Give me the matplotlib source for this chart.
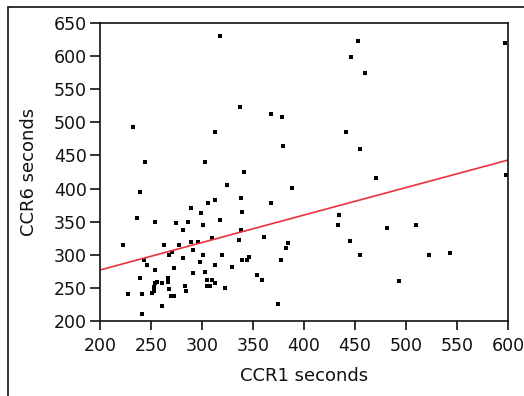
import matplotlib
matplotlib.use('Agg')
import matplotlib.pyplot as plt
from matplotlib.patches import Rectangle

ccr1 = [318, 337.6, 367.7, 378, 232.4, 312.7, 379.5, 244, 303,
        453, 597, 446, 459.7, 441.5, 454.8,
        471, 598, 434.5, 433, 481.4, 509.6, 444.7, 454.5, 523, 543, 493,
        341.2, 324.5, 388, 239, 338, 312.7, 306, 367.7, 289.4, 339.6,
        299.3, 236, 254.4, 286, 317.6, 274.4, 301, 281.2, 338, 309.4,
        361, 336.2, 289.4, 296, 222.3, 263, 277.6, 291, 271, 267.8,
        301.2, 319.6, 346, 384.4, 382.8, 243, 281, 339.6, 344.5, 298,
        377.9, 246.2, 312.7, 329.7, 272.7, 254.4, 302.9, 291, 354.3,
        239, 266.2, 304.5, 309.4, 359.2, 256, 266.2, 254.4, 261.2,
        312.7, 252.7, 282.9, 304.5, 307.8, 322.5, 267.8, 252.7, 284.5,
        251.1, 227.8, 241, 269.4, 272.7, 261, 374.6, 241]
ccr6 = [631, 523, 513, 508, 493, 485, 465, 440, 440,
        623, 620, 598, 575, 485, 460,
        415.5, 420.5, 360.5, 345.5, 340.4, 345.5, 320.8, 300, 300, 302.7, 260.4,
        425.5, 405.4, 400.4, 395.3, 385.3, 382.7, 377.7, 377.7, 370.2, 365,
        362.6, 355, 350, 350, 352.5, 347.5, 345, 337.4, 337.4, 324.8,
        327.3, 322.3, 319.8, 319.8, 314.8, 314.8, 314.8, 307.2, 304.7, 299.7,
        299.7, 299.7, 297, 317.3, 309.8, 292, 294.7, 292, 292, 289.6,
        292, 284.6, 284.6, 282, 279.6, 277, 274.5, 272, 269.5,
        264.5, 264.5, 262, 262, 262, 259.4, 259.4, 257, 257,
        257, 252, 252.9, 252.9, 252.9, 250.3, 247.9, 245.3, 245.3,
        242.8, 240.3, 240.3, 237.8, 237.8, 222.7, 225.2, 210]

fit_x = [200, 600]
fit_y = [277, 443]

x_ticks = [200, 250, 300, 350, 400, 450, 500, 550, 600]
y_ticks = [200, 250, 300, 350, 400, 450, 500, 550, 600, 650]

plt.rcParams['font.family'] = ['DejaVu Sans']

fig = plt.figure(figsize=(5.24, 3.96), dpi=100)
ax = fig.add_axes([100/524, 1-321/396, 408/524, 298/396])
ax.plot(ccr1, ccr6, 's', color='black', markersize=2.4, markeredgewidth=0)
ax.plot(fit_x, fit_y, color='#e8323c', lw=1.2)
ax.set_xlim(200, 600)
ax.set_ylim(200, 650)
ax.set_xticks(x_ticks)
ax.set_yticks(y_ticks)
for s in ax.spines.values():
    s.set_linewidth(1.2)
    s.set_color('#111111')
ax.tick_params(axis='x', direction='out', length=6.5, width=1.2, labelsize=12.5, pad=5, colors='#111111')
ax.tick_params(axis='y', direction='out', length=7, width=1.2, labelsize=12.5, pad=2.5, colors='#111111')
ax.set_xlabel('CCR1 seconds', fontsize=13, labelpad=9, color='#111111')
ax.set_ylabel('CCR6 seconds', fontsize=13, labelpad=11, color='#111111')

fig.add_artist(Rectangle((8/524, -0.2), 1.5, 1.2 - 7/396, transform=fig.transFigure,
                         fill=False, lw=1.2, edgecolor='#111111', clip_on=False))

fig.savefig('out.png', dpi=100)
